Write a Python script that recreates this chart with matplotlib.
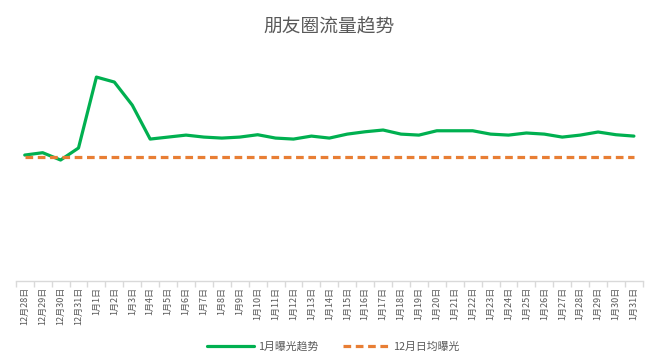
import matplotlib
matplotlib.use('agg')
import matplotlib.pyplot as plt
from matplotlib.ticker import FixedLocator

plt.rcParams['font.family'] = ['Noto Sans CJK SC', 'DejaVu Sans']

# 日期
days = ["12月28日", "12月29日", "12月30日", "12月31日"] + [f"1月{d}日" for d in range(1, 32)]

# 1月曝光趋势
jan_exposure = [
    101.6, 103.5, 97.6, 107.3, 164.5, 160.5, 141.9, 114.5, 116.1, 117.7,
    116.1, 115.3, 116.1, 118.0, 115.3, 114.5, 116.9, 115.3, 118.5, 120.4,
    121.8, 118.5, 117.7, 121.2, 121.2, 121.2, 118.5, 117.7, 119.4, 118.5,
    116.1, 117.7, 120.2, 118.0, 116.9,
]

# 12月日均曝光
dec_avg = [100.0] * len(days)

fig = plt.figure(figsize=(6.58, 3.64), dpi=100)
ax = fig.add_axes([0.024, 0.228, 0.953, 0.613])

x = list(range(len(days)))
ax.plot(x, jan_exposure, color='#00B050', linewidth=2.3, label='1月曝光趋势',
        solid_capstyle='round', solid_joinstyle='round')
ax.plot(x, dec_avg, color='#E87E34', linewidth=2.3, linestyle=(0, (2.4, 1.45)),
        label='12月日均曝光')

ax.set_xlim(-0.5, len(days) - 0.5)
ax.set_ylim(0, 180)

for side in ['top', 'right', 'left']:
    ax.spines[side].set_visible(False)
ax.spines['bottom'].set_color('#d9d9d9')
ax.spines['bottom'].set_linewidth(1)
ax.set_yticks([])

ax.set_xticks(x)
ax.set_xticklabels(days, rotation=90, fontsize=6.5, color='#595959')
ax.tick_params(axis='x', which='major', length=0, pad=4)
ax.xaxis.set_minor_locator(FixedLocator([i - 0.5 for i in range(len(days) + 1)]))
ax.tick_params(axis='x', which='minor', length=4, color='#d9d9d9', width=1)

fig.text(0.5, 0.925, '朋友圈流量趋势', ha='center', va='center', fontsize=13.5, color='#595959')

leg = ax.legend(loc='center', bbox_to_anchor=(0.507, 0.047), bbox_transform=fig.transFigure,
                ncol=2, frameon=False, fontsize=7.8, handlelength=4.3, handletextpad=0.4,
                columnspacing=2.2)
for t in leg.get_texts():
    t.set_color('#595959')

fig.savefig('out.png', dpi=100, facecolor='white')
